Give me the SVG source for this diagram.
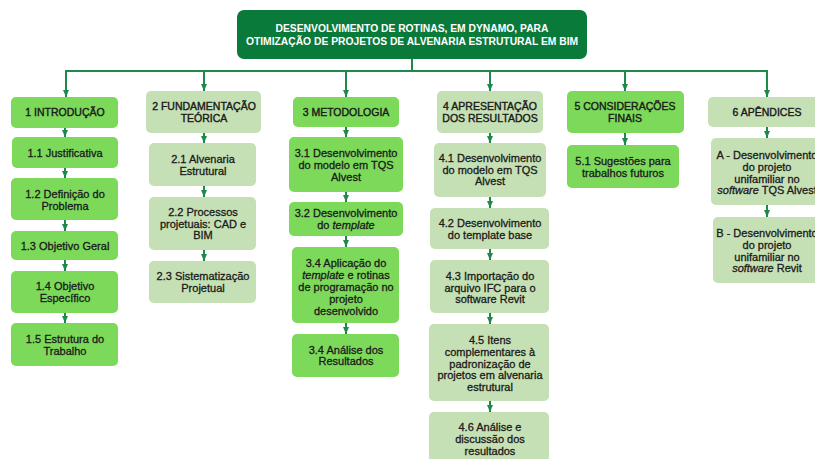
<svg xmlns="http://www.w3.org/2000/svg" width="815" height="459" viewBox="0 0 815 459">
<defs>
<marker id="arr" markerUnits="userSpaceOnUse" markerWidth="8" markerHeight="6" refX="7" refY="3" orient="auto">
<path d="M0,0 L7,3 L0,6 Z" fill="#1e8a4a"/>
</marker>
<style>
.con{fill:none;stroke:#1e8a4a;stroke-width:2}
.ar{marker-end:url(#arr)}
.b{fill:#7dd95a}
.l{fill:#c6e0b5}
text{font-family:"Liberation Sans",Arial,sans-serif;font-size:11px;fill:#1a1a1a;stroke:#1a1a1a;stroke-width:0.3;text-anchor:middle}
.h{font-size:10.5px;stroke-width:0.4}
.t{font-size:10.3px;font-weight:bold;fill:#ffffff;stroke:none}
.i{font-style:italic}
</style>
</defs>
<rect width="815" height="459" fill="#ffffff"/>
<g id="connectors">
<path class="con" d="M412,59 V71 M65,71 H767"/>
<path class="con ar" d="M66,70 V97"/>
<path class="con ar" d="M204,70 V91"/>
<path class="con ar" d="M346,70 V97"/>
<path class="con ar" d="M490,70 V91"/>
<path class="con ar" d="M625,70 V91"/>
<path class="con ar" d="M767,70 V97"/>
<path class="con ar" d="M65,128 V137"/>
<path class="con ar" d="M65,168 V178"/>
<path class="con ar" d="M65,220 V231"/>
<path class="con ar" d="M65,260 V271"/>
<path class="con ar" d="M65,313 V323"/>
<path class="con ar" d="M204,133 V143"/>
<path class="con ar" d="M204,186 V197"/>
<path class="con ar" d="M204,250 V261"/>
<path class="con ar" d="M346,127 V137"/>
<path class="con ar" d="M346,192 V202"/>
<path class="con ar" d="M346,236 V247"/>
<path class="con ar" d="M346,323 V334"/>
<path class="con ar" d="M490,133 V143"/>
<path class="con ar" d="M490,197 V208"/>
<path class="con ar" d="M490,249 V260"/>
<path class="con ar" d="M490,313 V324"/>
<path class="con ar" d="M490,401 V412"/>
<path class="con ar" d="M625,133 V145"/>
<path class="con ar" d="M767,127 V138"/>
<path class="con ar" d="M767,205 V217"/>
</g>
<g id="title">
<rect x="237" y="10" width="350" height="49" rx="7" fill="#0a7a3a"/>
<text class="t" x="412" y="32">DESENVOLVIMENTO DE ROTINAS, EM DYNAMO, PARA</text>
<text class="t" x="412" y="45">OTIMIZAÇÃO DE PROJETOS DE ALVENARIA ESTRUTURAL EM BIM</text>
</g>
<g id="n1">
<rect class="b" x="11" y="97" width="107" height="31" rx="5"/>
<text class="h" x="65" y="116">1 INTRODUÇÃO</text>
</g>
<g id="n1_1">
<rect class="b" x="12" y="137" width="106" height="31" rx="5"/>
<text x="65" y="157">1.1 Justificativa</text>
</g>
<g id="n1_2">
<rect class="b" x="11" y="178" width="107" height="42" rx="5"/>
<text x="65" y="198">1.2 Definição do</text>
<text x="65" y="210">Problema</text>
</g>
<g id="n1_3">
<rect class="b" x="11" y="231" width="107" height="29" rx="5"/>
<text x="65" y="250">1.3 Objetivo Geral</text>
</g>
<g id="n1_4">
<rect class="b" x="11" y="271" width="107" height="42" rx="5"/>
<text x="65" y="290">1.4 Objetivo</text>
<text x="65" y="302">Específico</text>
</g>
<g id="n1_5">
<rect class="b" x="11" y="323" width="107" height="43" rx="5"/>
<text x="65" y="343">1.5 Estrutura do</text>
<text x="65" y="355">Trabalho</text>
</g>
<g id="n2">
<rect class="l" x="146" y="91" width="115" height="42" rx="5"/>
<text class="h" x="204" y="110">2 FUNDAMENTAÇÃO</text>
<text class="h" x="204" y="122">TEÓRICA</text>
</g>
<g id="n2_1">
<rect class="l" x="149" y="143" width="107" height="43" rx="5"/>
<text x="203" y="163">2.1 Alvenaria</text>
<text x="203" y="175">Estrutural</text>
</g>
<g id="n2_2">
<rect class="l" x="149" y="197" width="107" height="53" rx="5"/>
<text x="203" y="216">2.2 Processos</text>
<text x="203" y="228">projetuais: CAD e</text>
<text x="203" y="239">BIM</text>
</g>
<g id="n2_3">
<rect class="l" x="149" y="261" width="107" height="42" rx="5"/>
<text x="203" y="280">2.3 Sistematização</text>
<text x="203" y="292">Projetual</text>
</g>
<g id="n3">
<rect class="b" x="293" y="97" width="106" height="30" rx="5"/>
<text class="h" x="346" y="116">3 METODOLOGIA</text>
</g>
<g id="n3_1">
<rect class="b" x="289" y="137" width="114" height="55" rx="5"/>
<text x="346" y="157">3.1 Desenvolvimento</text>
<text x="346" y="169">do modelo em TQS</text>
<text x="346" y="181">Alvest</text>
</g>
<g id="n3_2">
<rect class="b" x="289" y="202" width="114" height="34" rx="5"/>
<text x="346" y="217">3.2 Desenvolvimento</text>
<text x="346" y="229">do <tspan class="i">template</tspan></text>
</g>
<g id="n3_3">
<rect class="b" x="292" y="247" width="107" height="76" rx="5"/>
<text x="346" y="267">3.4 Aplicação do</text>
<text x="346" y="279"><tspan class="i">template</tspan> e rotinas</text>
<text x="346" y="291">de programação no</text>
<text x="346" y="303">projeto</text>
<text x="346" y="315">desenvolvido</text>
</g>
<g id="n3_4">
<rect class="b" x="292" y="334" width="107" height="43" rx="5"/>
<text x="346" y="354">3.4 Análise dos</text>
<text x="346" y="365">Resultados</text>
</g>
<g id="n4">
<rect class="l" x="437" y="91" width="106" height="42" rx="5"/>
<text class="h" x="490" y="110">4 APRESENTAÇÃO</text>
<text class="h" x="490" y="122">DOS RESULTADOS</text>
</g>
<g id="n4_1">
<rect class="l" x="434" y="143" width="112" height="54" rx="5"/>
<text x="490" y="162">4.1 Desenvolvimento</text>
<text x="490" y="174">do modelo em TQS</text>
<text x="490" y="185">Alvest</text>
</g>
<g id="n4_2">
<rect class="l" x="430" y="208" width="119" height="41" rx="5"/>
<text x="490" y="227">4.2 Desenvolvimento</text>
<text x="490" y="239">do template base</text>
</g>
<g id="n4_3">
<rect class="l" x="430" y="260" width="119" height="53" rx="5"/>
<text x="490" y="280">4.3 Importação do</text>
<text x="490" y="292">arquivo IFC para o</text>
<text x="490" y="303">software Revit</text>
</g>
<g id="n4_5">
<rect class="l" x="429" y="324" width="120" height="77" rx="5"/>
<text x="490" y="344">4.5 Itens</text>
<text x="490" y="356">complementares à</text>
<text x="490" y="368">padronização de</text>
<text x="490" y="379">projetos em alvenaria</text>
<text x="490" y="391">estrutural</text>
</g>
<g id="n4_6">
<rect class="l" x="429" y="412" width="120" height="60" rx="5"/>
<text x="490" y="431">4.6 Análise e</text>
<text x="490" y="443">discussão dos</text>
<text x="490" y="455">resultados</text>
</g>
<g id="n5">
<rect class="b" x="567" y="91" width="117" height="42" rx="5"/>
<text class="h" x="625" y="110">5 CONSIDERAÇÕES</text>
<text class="h" x="625" y="122">FINAIS</text>
</g>
<g id="n5_1">
<rect class="b" x="567" y="145" width="112" height="43" rx="5"/>
<text x="623" y="165">5.1 Sugestões para</text>
<text x="623" y="177">trabalhos futuros</text>
</g>
<g id="n6">
<rect class="l" x="708" y="97" width="118" height="30" rx="5"/>
<text class="h" x="767" y="116">6 APÊNDICES</text>
</g>
<g id="nA">
<rect class="l" x="711" y="138" width="112" height="67" rx="5"/>
<text x="767" y="159">A - Desenvolvimento</text>
<text x="767" y="171">do projeto</text>
<text x="767" y="183">unifamiliar no</text>
<text x="767" y="194"><tspan class="i">software</tspan> TQS Alvest</text>
</g>
<g id="nB">
<rect class="l" x="713" y="217" width="108" height="66" rx="5"/>
<text x="767" y="237">B - Desenvolvimento</text>
<text x="767" y="249">do projeto</text>
<text x="767" y="261">unifamiliar no</text>
<text x="767" y="272"><tspan class="i">software</tspan> Revit</text>
</g>
</svg>
